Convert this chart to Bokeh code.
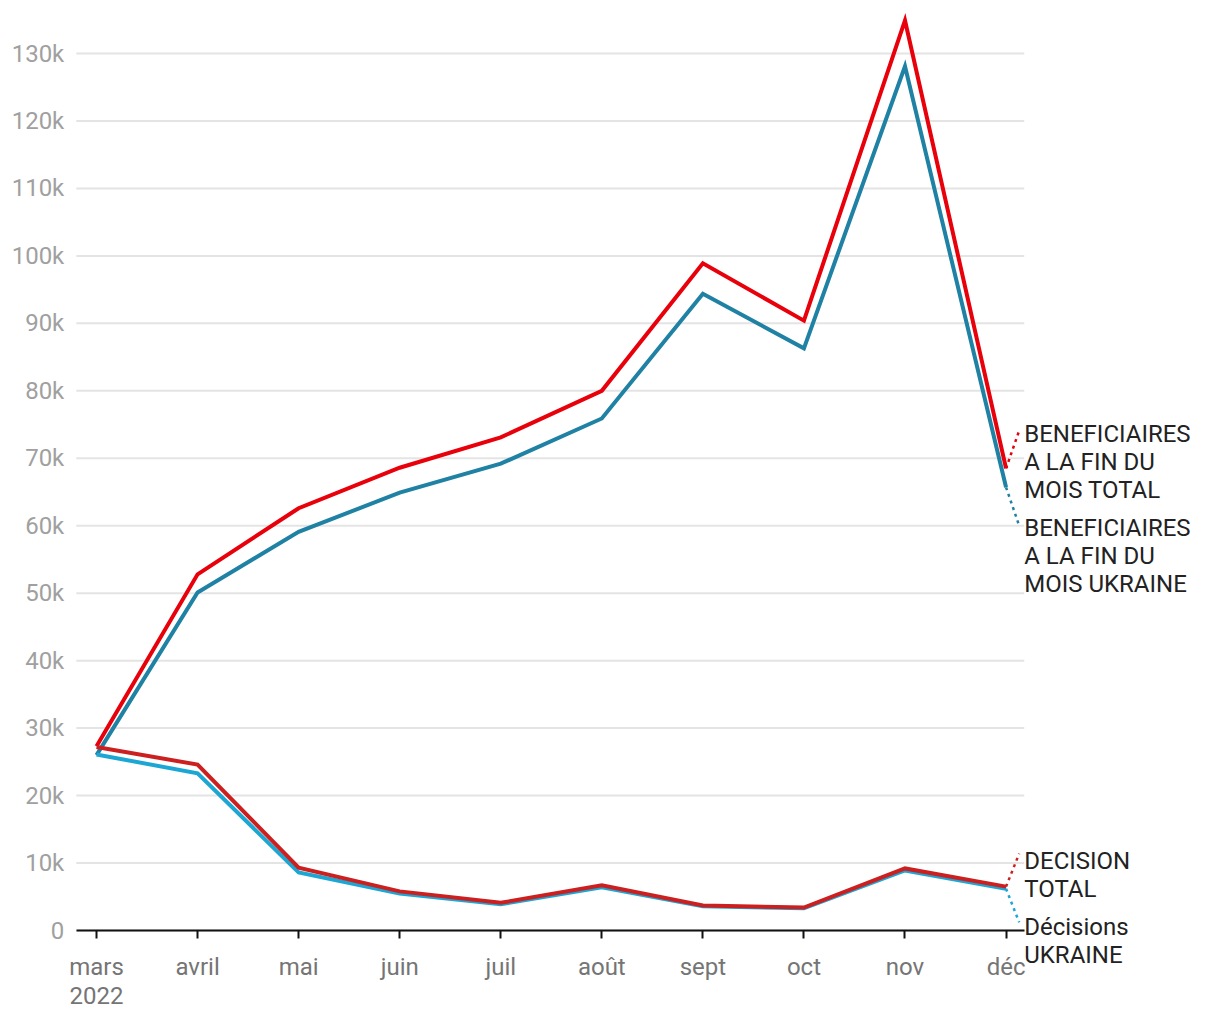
from bokeh.plotting import figure
from bokeh.models import ColumnDataSource, FixedTicker, Label, Range1d
from bokeh.embed import file_html
from bokeh.resources import INLINE

months = ["mars\n2022", "avril", "mai", "juin", "juil", "août", "sept", "oct", "nov", "déc"]
benef_total = [27300, 52800, 62600, 68600, 73100, 80000, 98900, 90400, 134900, 68500]
benef_ukraine = [26000, 50100, 59100, 64900, 69200, 75900, 94400, 86300, 128100, 65700]
decision_total = [27200, 24600, 9300, 5800, 4100, 6700, 3700, 3400, 9200, 6500]
decisions_ukraine = [26100, 23300, 8600, 5500, 3900, 6400, 3600, 3300, 8900, 6200]
y_ticks = [0, 10000, 20000, 30000, 40000, 50000, 60000, 70000, 80000, 90000, 100000, 110000, 120000, 130000]
y_tick_labels = ["0", "10k", "20k", "30k", "40k", "50k", "60k", "70k", "80k", "90k", "100k", "110k", "120k", "130k"]

FONT = "Roboto"
x = list(range(len(months)))
X0, X1 = -0.2, 9.18
Y1 = 136500

p = figure(width=1210, height=1012, output_backend="svg", toolbar_location=None,
           x_range=Range1d(-0.95, 11.023), y_range=Range1d(-12155, 137860),
           min_border_left=0, min_border_right=0, min_border_top=0, min_border_bottom=0)
p.outline_line_color = None
p.background_fill_color = "white"
p.border_fill_color = "white"

# horizontal grid lines (drawn manually so they stop before the labels)
p.segment(x0=[X0] * len(y_ticks), y0=y_ticks, x1=[X1] * len(y_ticks), y1=y_ticks,
          line_color="#e4e4e4", line_width=2)

series = [
    (benef_total, "#e8000b", "BENEFICIAIRES\nA LA FIN DU\nMOIS TOTAL", 69500, 74100),
    (benef_ukraine, "#1f81a3", "BENEFICIAIRES\nA LA FIN DU\nMOIS UKRAINE", 55550, 60000),
    (decisions_ukraine, "#1ca6d4", "Décisions\nUKRAINE", -1500, 1200),
    (decision_total, "#cc1f1f", "DECISION\nTOTAL", 8300, 11400),
]
for vals, color, label, ly, cy in series:
    src = ColumnDataSource(dict(x=x, y=vals))
    p.line("x", "y", source=src, line_color=color, line_width=4, line_join="miter")
    p.segment(x0=[x[-1]], y0=[vals[-1]], x1=[9.13], y1=[cy], line_color=color,
              line_width=2.5, line_dash="3 4")
    p.add_layout(Label(x=9.18, y=ly, text=label, text_font=FONT, text_font_size="24px",
                       text_color="#222222", text_align="left", text_baseline="middle",
                       text_line_height=1.0))

# x axis, fixed at zero inside the frame
p.xaxis.fixed_location = 0
p.xaxis.ticker = FixedTicker(ticks=x)
p.xaxis.bounds = (X0, X1)
p.xaxis.major_label_overrides = {i: m for i, m in enumerate(months)}
p.xaxis.axis_line_color = "#111111"
p.xaxis.axis_line_width = 2
p.xaxis.major_tick_line_color = "#111111"
p.xaxis.major_tick_line_width = 2
p.xaxis.major_tick_out = 8
p.xaxis.major_tick_in = 0
p.xaxis.minor_tick_line_color = None
p.xaxis.major_label_text_font = FONT
p.xaxis.major_label_text_font_size = "24px"
p.xaxis.major_label_text_line_height = 1.05
p.xaxis.major_label_text_color = "#757575"
p.xaxis.major_label_standoff = 14
p.xgrid.grid_line_color = None

# y axis, fixed at the left end of the grid
p.yaxis.fixed_location = X0
p.yaxis.ticker = FixedTicker(ticks=y_ticks)
p.yaxis.bounds = (0, Y1)
p.yaxis.major_label_overrides = {t: l for t, l in zip(y_ticks, y_tick_labels)}
p.yaxis.axis_line_color = None
p.yaxis.major_tick_line_color = None
p.yaxis.minor_tick_line_color = None
p.yaxis.major_label_text_font = FONT
p.yaxis.major_label_text_font_size = "24px"
p.yaxis.major_label_text_color = "#a0a0a0"
p.yaxis.major_label_standoff = 6
p.ygrid.grid_line_color = None

open("out.html", "w").write(file_html(p, INLINE))
